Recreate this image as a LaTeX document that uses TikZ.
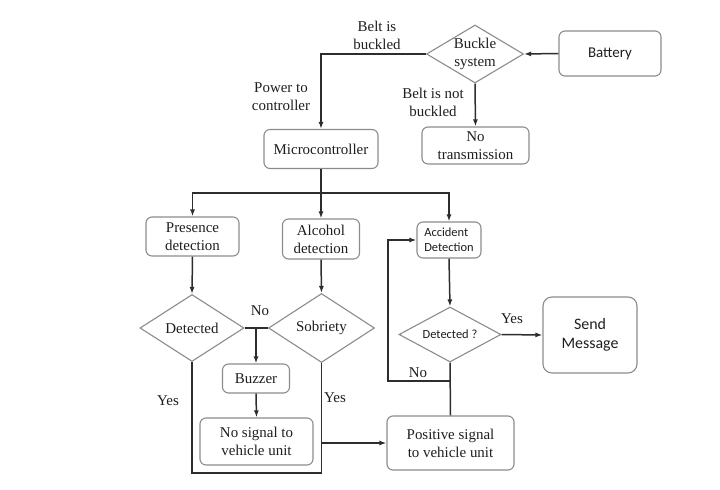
\documentclass[tikz,border=0pt]{standalone}
\usepackage{fontspec}
\setmainfont{Liberation Serif}
\newfontfamily\calfont{Carlito}
\usetikzlibrary{shapes.geometric,arrows.meta}
\definecolor{boxgray}{RGB}{140,140,140}
\definecolor{linecol}{RGB}{45,45,45}
\definecolor{textcol}{RGB}{30,30,30}
\begin{document}
\begin{tikzpicture}[x=1bp,y=-1bp,
 box/.style={draw=boxgray, line width=1.1bp, rounded corners=6bp, align=center, inner sep=0pt, text=textcol, font=\fontsize{15}{18}\selectfont},
 dia/.style={draw=boxgray, line width=1.1bp, shape=diamond, inner sep=0pt, align=center, text=textcol, font=\fontsize{15}{18}\selectfont},
 conn/.style={draw=linecol, line width=1.5bp},
 arr/.style={conn, -{Latex[length=7bp,width=5bp]}},
 lbl/.style={align=center, text=textcol, font=\fontsize{15}{18}\selectfont, inner sep=0pt},
 sans/.style={font=\calfont\fontsize{12.5}{15}\selectfont}
]
\useasboundingbox[fill=white] (0,0) rectangle (720,490);

% nodes
\node[box, minimum width=102bp, minimum height=45bp, font=\calfont\fontsize{15}{18}\selectfont] (battery) at (610,53.5) {Battery};
\node[dia, minimum width=97bp, minimum height=58bp, aspect=1.67] (buckle) at (475,54) {Buckle\\system};
\node[box, minimum width=107bp, minimum height=37bp] (notrans) at (475.5,145.5) {No\\transmission};
\node[box, minimum width=114bp, minimum height=39bp] (micro) at (321,149) {Microcontroller};
\node[box, minimum width=93bp, minimum height=39bp] (presence) at (192.5,236.5) {Presence\\detection};
\node[box, minimum width=77bp, minimum height=40bp] (alcohol) at (321,239) {Alcohol\\detection};
\node[box, sans, align=left, minimum width=64bp, minimum height=36bp] (accident) at (449,240) {Accident\\Detection};
\node[dia, minimum width=104bp, minimum height=67bp, aspect=1.55] (det1) at (192,328) {Detected};
\node[dia, minimum width=106bp, minimum height=69bp, aspect=1.55] (sob) at (321.5,328) {Sobriety};
\node[dia, sans, minimum width=102bp, minimum height=55bp, aspect=1.85] (det2) at (450,334.5) {Detected ?};
\node[box, minimum width=67bp, minimum height=29bp] (buzzer) at (256,378.5) {Buzzer};
\node[box, minimum width=113bp, minimum height=47bp] (nosig) at (256.5,441.5) {No signal to\\vehicle unit};
\node[box, minimum width=127bp, minimum height=54bp] (pos) at (450.5,443) {Positive signal\\to vehicle unit};
\node[box, minimum width=94bp, minimum height=76bp, rounded corners=9bp, font=\calfont\fontsize{16}{19}\selectfont] (send) at (590,335) {Send\\Message};

% helper coordinates
\coordinate (split) at (321,193);
\coordinate (nojoin) at (256,328);
\coordinate (bot) at (256,473);
\coordinate (loopjoin) at (450,381);
\coordinate (loopx) at (388,381);

% connectors
\draw[arr] (battery.west) -- (buckle.east);
\draw[arr] (buckle.west) -| (micro.north);
\draw[arr] (buckle.south) -- (notrans.north);
\draw[conn] (micro.south) -- (split);
\draw[arr] (split) -| (presence.north);
\draw[arr] (split) -| (accident.north);
\draw[arr] (split) -- (alcohol.north);
\draw[arr] (presence.south) -- (det1.north);
\draw[arr] (alcohol.south) -- (sob.north);
\draw[conn] (det1.east) -- (sob.west);
\draw[arr] (nojoin) -- (buzzer.north);
\draw[arr] (buzzer.south) -- (nosig.north);
\draw[conn] (det1.south) |- (bot) -| (sob.south);
\draw[arr] (sob.south |- pos.west) -- (pos.west);
\draw[arr] (accident.south) -- (det2.north);
\draw[arr] (det2.east) -- (send.west);
\draw[conn] (det2.south) -- (pos.north);
\draw[arr] (loopjoin) -- (loopx) |- (accident.west);

% labels
\node[lbl] (lbelt) at (377,35) {Belt is\\buckled};
\node[lbl] (lpower) at (281,97) {Power to\\controller};
\node[lbl] (lnot) at (433,102) {Belt is not\\buckled};
\node[lbl] (lno1) at (260,311) {No};
\node[lbl] (lyes1) at (168,401) {Yes};
\node[lbl] (lyes2) at (335,398) {Yes};
\node[lbl] (lyes3) at (512,319) {Yes};
\node[lbl] (lno2) at (418,373) {No};
\end{tikzpicture}
\end{document}
